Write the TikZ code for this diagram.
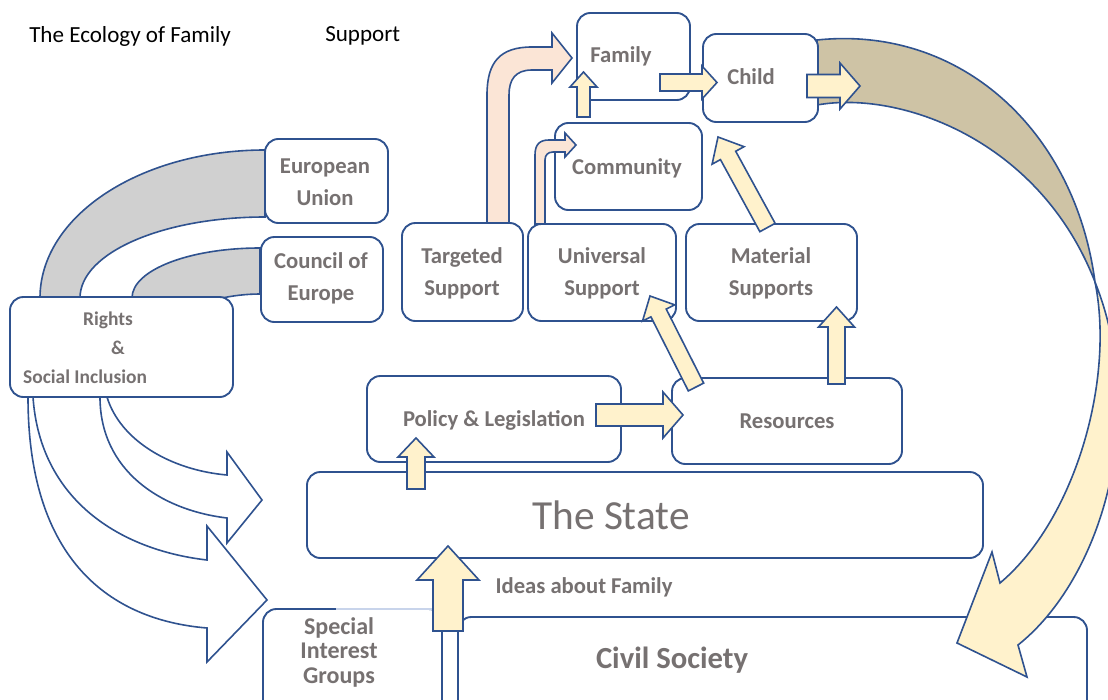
\documentclass[tikz,border=0pt]{standalone}
\usepackage{fontspec}
\setmainfont{Carlito}
\usetikzlibrary{calc}

\definecolor{boxline}{RGB}{47,82,143}
\definecolor{labelgrey}{RGB}{118,113,113}
\definecolor{cream}{RGB}{255,242,204}
\definecolor{blush}{RGB}{251,229,214}
\definecolor{khaki}{RGB}{206,195,165}
\definecolor{bandgrey}{RGB}{208,208,208}
\definecolor{paleline}{RGB}{200,212,235}

% straight block arrow: tail, tip, half shaft, half head, head length (px)
\newcommand{\blockarrow}[6][yellowarrow]{%
  \coordinate (ba-h) at ($(#3)!#6*0.75pt!(#2)$);
  \draw[#1] ($(#2)!#4*0.75pt!90:(#3)$) -- ($(ba-h)!#4*0.75pt!-90:(#2)$)
    -- ($(ba-h)!#5*0.75pt!-90:(#2)$) -- (#3)
    -- ($(ba-h)!#5*0.75pt!90:(#2)$) -- ($(ba-h)!#4*0.75pt!90:(#2)$)
    -- ($(#2)!#4*0.75pt!-90:(#3)$) -- cycle;}

\begin{document}
\begin{tikzpicture}[x=0.75pt,y=0.75pt,yscale=-1,xscale=1,
  box/.style={draw=boxline, line width=1.4pt, fill=white, rounded corners=10pt, inner sep=0pt},
  lbl/.style={text=labelgrey, font=\bfseries\fontsize{17}{24}\selectfont, align=center, inner sep=0pt},
  yellowarrow/.style={draw=boxline, line width=1.2pt, fill=cream},
  pinkarrow/.style={draw=boxline, line width=1.2pt, fill=blush},
  band/.style={draw=boxline, line width=1.2pt, fill=bandgrey},
  hollowarrow/.style={draw=boxline, line width=1.2pt, fill=white}]
\useasboundingbox (0,0) rectangle (1108,700);
\clip (0,0) rectangle (1108,700);

%Bands: European Union and Council of Europe
\draw[band] (265,150) .. controls (140.7,150) and (40,215.8) .. (40,298) -- (80,298) .. controls (80,252.8) and (162.8,217) .. (265,217) -- cycle ;
\draw[band] (260,248) .. controls (189.3,248) and (132,270) .. (132,298) -- (222,298) .. controls (232,296) and (245,294) .. (260,294) -- cycle ;

%Ribbon leaving the child
\draw[band, fill=khaki] (817,40) .. controls (960,25) and (1075,130) .. (1095,282) .. controls (1040,140) and (900,90) .. (817,105) -- cycle ;

%Boxes
\node[box, minimum width=84.75pt, minimum height=65.25pt] (family) at (633.5,56.5) {};
\node[box, minimum width=86.25pt, minimum height=66pt] (child) at (760.5,78) {};
\node[box, minimum width=110.25pt, minimum height=65.25pt] (community) at (628.5,166.5) {};
\node[box, minimum width=92.25pt, minimum height=63pt] (eu) at (326.5,181) {};
\node[box, minimum width=91.5pt, minimum height=63.75pt] (coe) at (322,279.5) {};
\node[box, minimum width=167.25pt, minimum height=75pt] (rights) at (121.5,347) {};
\node[box, minimum width=90.75pt, minimum height=73.5pt] (targeted) at (462.5,272) {};
\node[box, minimum width=111pt, minimum height=72.75pt] (universal) at (602,272.5) {};
\node[box, minimum width=128.25pt, minimum height=72.75pt] (material) at (771.5,272.5) {};
\node[box, minimum width=190.5pt, minimum height=64.5pt] (policy) at (494,419) {};
\node[box, minimum width=172.5pt, minimum height=64.5pt] (resources) at (787,421) {};
\node[box, minimum width=507pt, minimum height=64.5pt] (state) at (645,515) {};
\node[box, minimum width=134.25pt, minimum height=83.25pt] (special) at (352.5,664.5) {};
\node[box, minimum width=471.75pt, minimum height=77.25pt] (civil) at (772.5,668.5) {};
\draw[paleline, line width=1.4pt] (336,609) -- (433,609) ;

%Curved arrow back down to civil society
\draw[yellowarrow] (1095,282) .. controls (1115,380) and (1075,520) .. (1000,583) -- (992,552) -- (957,643) -- (1027,677) -- (1018,645) .. controls (1100,580) and (1150,420) .. (1095,282) -- cycle ;

%Arrows from rights and social inclusion
\draw[hollowarrow] (100,397) .. controls (100,470) and (160,510) .. (227,518) -- (227,543) -- (262,500) -- (227,452) -- (227,475) .. controls (170,470) and (120,440) .. (107,397) -- cycle ;
\draw[hollowarrow] (28,397) .. controls (28,560) and (110,620) .. (207,628) -- (207,662) -- (267,600) -- (207,526) -- (207,560) .. controls (120,550) and (40,500) .. (33,397) -- cycle ;

%Bent arrows to family and community
\draw[pinkarrow] (487,223) -- (487,95) .. controls (487,62) and (500,47) .. (532,47) -- (552,47) -- (552,33) -- (572,58) -- (552,83) -- (552,70) -- (532,70) .. controls (515,70) and (509,80) .. (509,95) -- (509,223) -- cycle ;
\draw[pinkarrow] (535,224) -- (535,155) .. controls (535,144) and (540,140) .. (549,140) -- (565,140) -- (565,133) -- (576,145) -- (565,157) -- (565,152) -- (553,152) .. controls (548,152) and (545,155) .. (545,160) -- (545,224) -- cycle ;

%Block arrows
\coordinate (fam-out) at (660,82.5);
\coordinate (child-in) at (717,82.5);
\coordinate (child-out) at (807,86);
\coordinate (child-tip) at (860,86);
\coordinate (comm-out) at (583.5,117);
\coordinate (fam-in) at (583.5,72);
\coordinate (mat-out) at (767.5,227.5);
\coordinate (child-low) at (718,137);
\coordinate (res-out) at (696,387);
\coordinate (univ-in) at (650,296);
\coordinate (res-up) at (836.5,384);
\coordinate (mat-in) at (836.5,307);
\coordinate (pol-out) at (596,415);
\coordinate (res-in) at (683,415);
\coordinate (state-out) at (416,489);
\coordinate (pol-in) at (416,438);
\coordinate (civil-out) at (448,631);
\coordinate (state-in) at (448,546);

\blockarrow{fam-out}{child-in}{8.5}{16.5}{15}
\blockarrow{child-out}{child-tip}{11.5}{23}{20}
\blockarrow{comm-out}{fam-in}{6.5}{13.5}{15}
\blockarrow{mat-out}{child-low}{8.7}{18.2}{21}
\blockarrow{res-out}{univ-in}{8.6}{18}{19}
\blockarrow{res-up}{mat-in}{8.5}{18}{20}
\blockarrow{pol-out}{res-in}{11}{23}{20}
\blockarrow{state-out}{pol-in}{9}{18}{19}
\blockarrow{civil-out}{state-in}{15}{31}{34}

% Text Node
\node[anchor=west, inner sep=0pt, font=\fontsize{17.3}{20}\selectfont] (title-a) at (29,36) {The Ecology of Family};
\node[anchor=west, inner sep=0pt, font=\fontsize{17.3}{20}\selectfont] (title-b) at (325,36) {Support};
% Text Node
\node[lbl] (family-txt) at (621,56) {Family};
\node[lbl] (child-txt) at (751,77) {Child};
\node[lbl] (community-txt) at (627,168) {Community};
\node[lbl] (eu-txt) at (325,182) {European\\Union};
\node[lbl] (coe-txt) at (321,278) {Council of\\Europe};
\node[lbl] (targeted-txt) at (462,273) {Targeted\\Support};
\node[lbl] (universal-txt) at (602,273) {Universal\\Support};
\node[lbl] (material-txt) at (771,273) {Material\\Supports};
\node[lbl] (policy-txt) at (494,420) {Policy \& Legislation};
\node[lbl] (resources-txt) at (787,421) {Resources};
\node[lbl] (ideas-txt) at (584,587) {Ideas about Family};
% Text Node
\node[lbl, font=\bfseries\fontsize{14.6}{18}\selectfont] (rights-a) at (108,320) {Rights};
\node[lbl, font=\bfseries\fontsize{14.6}{18}\selectfont] (rights-b) at (118,348) {\&};
\node[lbl, font=\bfseries\fontsize{14.6}{18}\selectfont] (rights-c) at (85,377) {Social Inclusion};
\node[lbl, font=\bfseries\fontsize{18}{18.4}\selectfont] (special-txt) at (339,652) {Special\\Interest\\Groups};
\node[lbl, font=\fontsize{31}{36}\selectfont] (state-txt) at (611,515) {The State};
\node[lbl, font=\bfseries\fontsize{23}{28}\selectfont] (civil-txt) at (672,660) {Civil Society};

\end{tikzpicture}
\end{document}
